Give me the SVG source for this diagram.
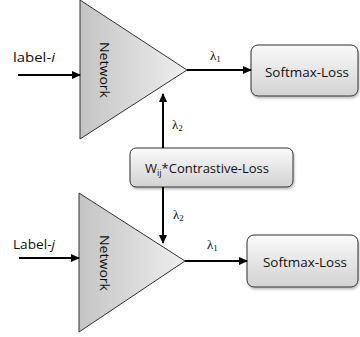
<svg xmlns="http://www.w3.org/2000/svg" width="360" height="337" viewBox="0 0 360 337">
<defs>
<linearGradient id="triG" x1="0" y1="0" x2="1" y2="0">
<stop offset="0" stop-color="#c4c4c4"/>
<stop offset="1" stop-color="#eeeeee"/>
</linearGradient>
<linearGradient id="boxG" x1="0" y1="0" x2="0" y2="1">
<stop offset="0" stop-color="#fafafa"/>
<stop offset="1" stop-color="#d2d2d2"/>
</linearGradient>
<marker id="ah" markerUnits="userSpaceOnUse" markerWidth="9" markerHeight="8" refX="8" refY="4" orient="auto">
<path d="M0,0 L9,4 L0,8 z" fill="#000"/>
</marker>
<filter id="sh" x="-10%" y="-10%" width="130%" height="140%">
<feDropShadow dx="1" dy="2" stdDeviation="1" flood-color="#000" flood-opacity="0.25"/>
</filter>
</defs>
<style>
.tri{fill:url(#triG);stroke:#333;stroke-width:1}
.box{fill:url(#boxG);stroke:#333;stroke-width:1;filter:url(#sh)}
.t{font-family:"Open Sans","Liberation Sans",sans-serif;fill:#111}
.lbl{font-size:13px}
.lam{font-family:"Liberation Serif",serif;font-size:13px;fill:#111}
.sub{font-size:9px}
.c{stroke:#000;stroke-width:2;fill:none;marker-end:url(#ah)}
</style>

<g id="network-top">
<polygon class="tri" points="80,0 80,139 187,70"/>
<text class="t lbl" transform="translate(100,70) rotate(90)" text-anchor="middle" textLength="56" lengthAdjust="spacingAndGlyphs">Network</text>
</g>
<g id="network-bottom">
<polygon class="tri" points="79,193 79,332 185,261"/>
<text class="t lbl" transform="translate(100,263) rotate(90)" text-anchor="middle" textLength="56" lengthAdjust="spacingAndGlyphs">Network</text>
</g>
<g id="softmax-top">
<rect class="box" x="251" y="45" width="107" height="51" rx="7"/>
<text class="t lbl" x="307" y="77" text-anchor="middle" textLength="84" lengthAdjust="spacingAndGlyphs">Softmax-Loss</text>
</g>
<g id="softmax-bottom">
<rect class="box" x="247" y="235" width="111" height="52" rx="7"/>
<text class="t lbl" x="305" y="267" text-anchor="middle" textLength="84" lengthAdjust="spacingAndGlyphs">Softmax-Loss</text>
</g>
<g id="contrastive">
<rect class="box" x="130" y="148" width="163" height="39" rx="6"/>
<text class="t lbl" x="145" y="173">W<tspan class="sub" dy="3">ij</tspan><tspan dy="-3">*Contrastive-Loss</tspan></text>
</g>
<g id="input-labels">
<text class="t lbl" x="13" y="62" textLength="42" lengthAdjust="spacingAndGlyphs">label-<tspan font-style="italic">i</tspan></text>
<text class="t lbl" x="13" y="249" textLength="42" lengthAdjust="spacingAndGlyphs">Label-<tspan font-style="italic">j</tspan></text>
</g>

<g id="connectors">
<line class="c" x1="18" y1="75" x2="80" y2="75"/>
<line class="c" x1="19" y1="258" x2="79" y2="258"/>
<line class="c" x1="187" y1="70" x2="251" y2="70"/>
<line class="c" x1="185" y1="261" x2="247" y2="261"/>
<line class="c" x1="163" y1="148" x2="163" y2="94"/>
<line class="c" x1="163" y1="187" x2="163" y2="243"/>
<text class="lam" x="210" y="60">λ<tspan class="sub" dy="2">1</tspan></text>
<text class="lam" x="207" y="249">λ<tspan class="sub" dy="2">1</tspan></text>
<text class="lam" x="172" y="129">λ<tspan class="sub" dy="2">2</tspan></text>
<text class="lam" x="173" y="219">λ<tspan class="sub" dy="2">2</tspan></text>
</g>
</svg>
